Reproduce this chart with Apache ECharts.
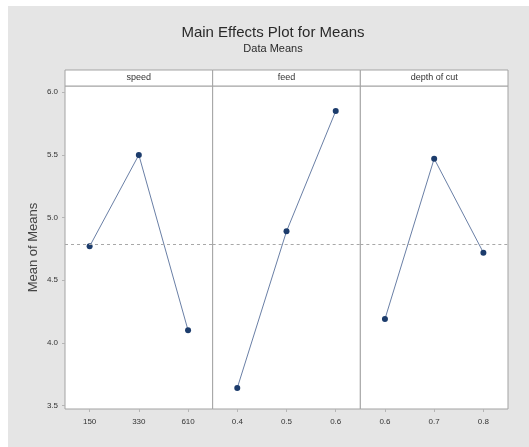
<!DOCTYPE html>
<html>
<head>
<meta charset="utf-8">
<script src="https://cdn.jsdelivr.net/npm/echarts@6/dist/echarts.min.js"></script>
<style>html,body{margin:0;padding:0;background:#fff}#c{width:529px;height:447px}</style>
</head>
<body>
<div id="c"></div>
<script>
const titleText = 'Main Effects Plot for Means';
const subtitleText = 'Data Means';
const yAxisTitle = 'Mean of Means';
const factorNames = ['speed', 'feed', 'depth of cut'];
const speedLevels = ['150', '330', '610'];
const feedLevels = ['0.4', '0.5', '0.6'];
const depthLevels = ['0.6', '0.7', '0.8'];
const speedMeans = [4.77, 5.50, 4.10];
const feedMeans = [3.64, 4.89, 5.85];
const depthMeans = [4.19, 5.47, 4.72];
const yTicks = [3.5, 4.0, 4.5, 5.0, 5.5, 6.0];
const grandMean = 4.79;

const levels = [speedLevels, feedLevels, depthLevels];
const means = [speedMeans, feedMeans, depthMeans];

const plotLeft = 65, plotRight = 508, plotTop = 86, plotBottom = 409;
const panelW = (plotRight - plotLeft) / 3;
const yMin = 3.472, yMax = 6.05;
const font = '"Liberation Sans Narrow","Liberation Sans",Arial,sans-serif';

const grids = [], xAxes = [], yAxes = [], series = [], headers = [];
for (let i = 0; i < 3; i++) {
  const left = plotLeft + i * panelW;
  grids.push({
    left: left, width: panelW, top: plotTop, height: plotBottom - plotTop,
    show: true, backgroundColor: '#ffffff', borderColor: '#a3a3a3', borderWidth: 1
  });
  xAxes.push({
    type: 'category', gridIndex: i, data: levels[i], boundaryGap: true,
    axisLine: { show: false },
    axisTick: { show: true, alignWithLabel: true, length: 3, lineStyle: { color: '#b5b5b5' } },
    axisLabel: { color: '#333', fontSize: 8, margin: 9, fontFamily: font }
  });
  yAxes.push({
    type: 'value', gridIndex: i, min: yMin, max: yMax, show: i === 0,
    name: i === 0 ? yAxisTitle : '', nameLocation: 'middle', nameGap: 25,
    nameTextStyle: { color: '#444', fontSize: 13, fontFamily: '"Liberation Sans",Arial,sans-serif' },
    splitLine: { show: false },
    axisLine: { show: false },
    axisTick: { show: i === 0, length: 3, customValues: yTicks, lineStyle: { color: '#b5b5b5' } },
    axisLabel: {
      show: i === 0, customValues: yTicks, color: '#333', fontSize: 8, margin: 7, fontFamily: font,
      formatter: v => Number(v).toFixed(1)
    }
  });
  series.push({
    type: 'line', xAxisIndex: i, yAxisIndex: i, data: means[i],
    symbol: 'circle', symbolSize: 6, showSymbol: true,
    lineStyle: { color: '#6a7fa6', width: 1 },
    itemStyle: { color: '#1c3c6c' },
    z: 3,
    markLine: {
      silent: true, symbol: 'none', label: { show: false },
      lineStyle: { color: '#a8a8a8', type: [3, 3], width: 1 },
      data: [{ yAxis: grandMean }]
    }
  });
  headers.push({
    type: 'rect', shape: { x: left, y: 70, width: panelW, height: 16 },
    style: { fill: '#ffffff', stroke: '#a3a3a3', lineWidth: 1 }
  });
  headers.push({
    type: 'text', x: left + panelW / 2, y: 78,
    style: { text: factorNames[i], fill: '#333', fontSize: 9, fontFamily: font, align: 'center', verticalAlign: 'middle' }
  });
}

const chart = echarts.init(document.getElementById('c'), null, { renderer: 'canvas' });
chart.setOption({
  backgroundColor: '#e5e5e5',
  animation: false,
  title: [
    { text: titleText, left: 268, top: 20, textAlign: 'center',
      textStyle: { fontSize: 15, fontWeight: 'normal', color: '#2a2a2a', fontFamily: font } },
    { text: subtitleText, left: 268, top: 38, textAlign: 'center',
      textStyle: { fontSize: 11, fontWeight: 'normal', color: '#2a2a2a', fontFamily: font } }
  ],
  graphic: [
    { type: 'rect', shape: { x: 0, y: 0, width: 529, height: 6 }, style: { fill: '#ffffff' } },
    { type: 'rect', shape: { x: 0, y: 0, width: 8, height: 447 }, style: { fill: '#ffffff' } }
  ].concat(headers),
  grid: grids,
  xAxis: xAxes,
  yAxis: yAxes,
  series: series
});
</script>
</body>
</html>
